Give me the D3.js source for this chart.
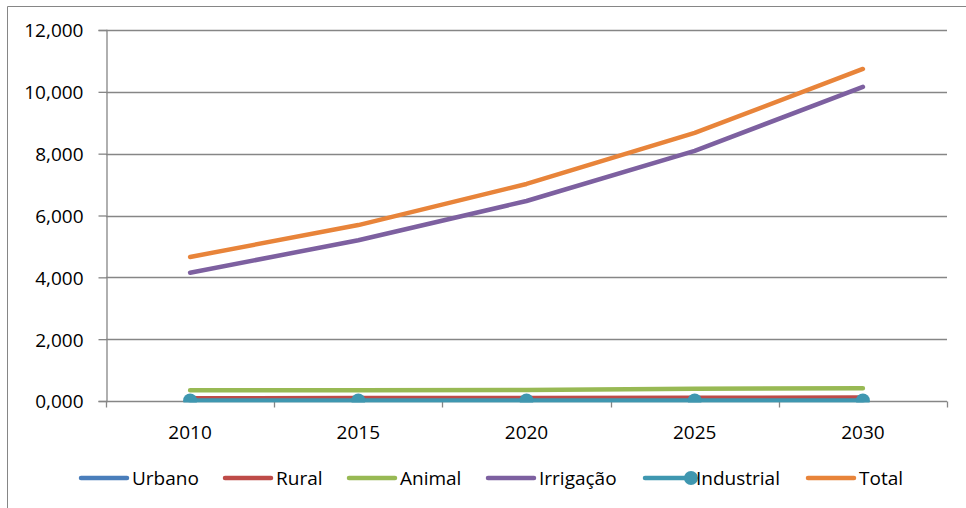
<!DOCTYPE html>
<html>
<head>
<meta charset="utf-8">
<script src="https://cdn.jsdelivr.net/npm/d3@7"></script>
<style>
html,body{margin:0;padding:0;background:#fff;}
svg{display:block;font-family:"Open Sans","Noto Sans",sans-serif;}
</style>
</head>
<body>
<svg id="chart" width="966" height="508"></svg>
<script>
const categories = ["2010", "2015", "2020", "2025", "2030"];
const urbano     = [60, 65, 70, 75, 80];
const rural      = [90, 95, 100, 105, 110];
const animal     = [350, 350, 355, 400, 410];
const irrigacao  = [4150, 5200, 6470, 8090, 10160];
const industrial = [15, 15, 15, 15, 15];
const total      = [4660, 5690, 7020, 8670, 10740];
const yTicks     = [0, 2000, 4000, 6000, 8000, 10000, 12000];
const seriesNames  = ["Urbano", "Rural", "Animal", "Irrigação", "Industrial", "Total"];
const seriesColors = ["#4A7EBB", "#BE4B48", "#98B954", "#7D60A0", "#3F97B0", "#E8843A"];

const series = seriesNames.map((name, i) => ({
  name, color: seriesColors[i],
  values: [urbano, rural, animal, irrigacao, industrial, total][i],
  marker: name === "Industrial"
}));

const FONT = "'Open Sans','Noto Sans',sans-serif";
const FS = 19;
const svg = d3.select("#chart");
const W = 966, H = 508;
const m = {left: 106, right: 19, top: 30, bottom: 107};
const pw = W - m.left - m.right, ph = H - m.top - m.bottom;

// outer chart border (top and left visible)
svg.append("line").attr("x1", 7.5).attr("x2", W).attr("y1", 6.5).attr("y2", 6.5)
  .attr("stroke", "#868686").attr("stroke-width", 1);
svg.append("line").attr("x1", 7.5).attr("x2", 7.5).attr("y1", 6.5).attr("y2", H)
  .attr("stroke", "#868686").attr("stroke-width", 1);

const x = d3.scaleBand().domain(categories).range([0, pw]);
const y = d3.scaleLinear().domain([0, 12000]).range([ph, 0]);
const yLabel = v => {
  if (v === 0) return "0,000";
  const s = String(v);
  return s.slice(0, s.length - 3) + "," + s.slice(s.length - 3);
};

const g = svg.append("g").attr("transform", `translate(${m.left},${m.top})`);

// gridlines
g.append("g").selectAll("line").data(yTicks.filter(t => t > 0)).join("line")
  .attr("x1", 0).attr("x2", pw)
  .attr("y1", d => Math.round(y(d)) + 0.5).attr("y2", d => Math.round(y(d)) + 0.5)
  .attr("stroke", "#868686").attr("stroke-width", 1.3);

// y axis
const yAxis = g.append("g").attr("transform", "translate(0.5,0)")
  .call(d3.axisLeft(y).tickValues(yTicks).tickFormat(yLabel).tickSize(8).tickPadding(15));
yAxis.select(".domain").attr("stroke", "#868686").attr("stroke-width", 1.3);
yAxis.selectAll(".tick line").attr("stroke", "#868686").attr("stroke-width", 1.3);
yAxis.selectAll(".tick text").attr("font-size", FS).attr("fill", "#000")
  .attr("font-family", FONT).attr("dy", "0.36em");

// x axis
const xg = g.append("g").attr("transform", `translate(0,${ph + 0.5})`);
xg.append("line").attr("x1", 0).attr("x2", pw).attr("stroke", "#868686").attr("stroke-width", 1.3);
const bounds = categories.map(c => x(c)).concat([pw]);
xg.selectAll("line.tk").data(bounds).join("line").attr("class", "tk")
  .attr("x1", d => Math.round(d) + 0.5).attr("x2", d => Math.round(d) + 0.5)
  .attr("y1", 0).attr("y2", 6).attr("stroke", "#868686").attr("stroke-width", 1.3);
xg.selectAll("text").data(categories).join("text")
  .attr("x", d => x(d) + x.bandwidth() / 2).attr("y", 37)
  .attr("text-anchor", "middle").attr("font-size", FS).attr("fill", "#000")
  .attr("font-family", FONT)
  .text(d => d);

// clip
svg.append("defs").append("clipPath").attr("id", "plotclip")
  .append("rect").attr("x", -10).attr("y", -10).attr("width", pw + 20).attr("height", ph + 11.5);

const line = d3.line()
  .x((d, i) => x(categories[i]) + x.bandwidth() / 2)
  .y(d => y(d));

const lg = g.append("g").attr("clip-path", "url(#plotclip)");
series.forEach(s => {
  lg.append("path").datum(s.values).attr("d", line)
    .attr("fill", "none").attr("stroke", s.color).attr("stroke-width", 4.5)
    .attr("stroke-linecap", "round").attr("stroke-linejoin", "round");
  if (s.marker) {
    lg.selectAll(null).data(s.values).join("circle")
      .attr("cx", (d, i) => x(categories[i]) + x.bandwidth() / 2)
      .attr("cy", d => y(d)).attr("r", 7).attr("fill", s.color);
  }
});

// legend
const legendX = [81, 225, 349, 488, 645, 808];
const legend = svg.append("g").attr("transform", "translate(0,478)");
series.forEach((s, i) => {
  const lx = legendX[i];
  const it = legend.append("g").attr("transform", `translate(${lx},0)`);
  it.append("line").attr("x1", 0).attr("x2", 46).attr("y1", 0).attr("y2", 0)
    .attr("stroke", s.color).attr("stroke-width", 4.5).attr("stroke-linecap", "round");
  if (s.marker) it.append("circle").attr("cx", 46).attr("cy", 0).attr("r", 7).attr("fill", s.color);
  it.append("text").attr("x", 51).attr("y", 0).attr("dy", "0.36em")
    .attr("font-size", FS).attr("font-family", FONT).attr("fill", "#000").text(s.name);
});
</script>
</body>
</html>
